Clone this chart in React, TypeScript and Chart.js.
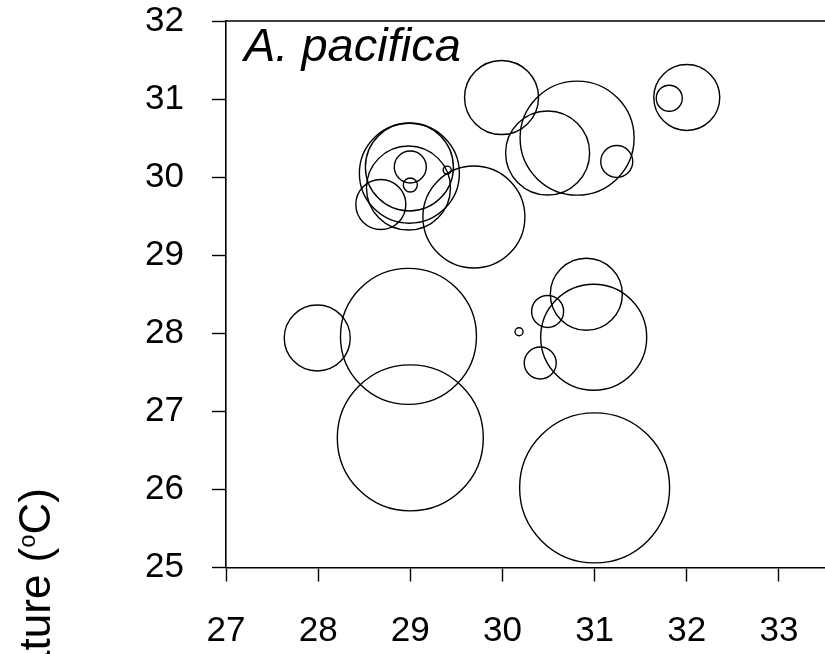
import React, { useEffect, useRef } from "react";
import { Chart, registerables } from "chart.js";

Chart.register(...registerables);

// Bubble data (x = first axis, y = temperature, r = bubble radius in px)
const xValues = [29.0, 28.98, 27.99, 31.0, 30.99, 30.91, 30.49, 30.41, 30.18, 29.99, 30.81, 30.49, 31.24, 32.0, 31.81, 29.69, 28.99, 28.99, 28.98, 29.0, 29.0, 29.4, 28.68];
const yValues = [26.66, 27.96, 27.94, 26.02, 27.95, 28.5, 28.28, 27.62, 28.02, 31.02, 30.5, 30.31, 30.2, 31.02, 31.01, 29.49, 30.05, 30.13, 29.86, 30.13, 29.9, 30.09, 29.65];
const rValues = [73, 68, 33, 75, 53, 36, 16, 16, 4, 37, 57, 42, 16, 33, 13, 51, 50, 44, 42, 16, 7, 4, 25];

const xTickMin = 27;
const xTickMax = 33.5;
const yTickMin = 25;
const yTickMax = 32;

const panelTitle = "A. pacifica";
const yTitleMain = "Temperature (";
const yTitleSup = "o";
const yTitleEnd = "C)";

const FONT = "'Liberation Sans', Arial, Helvetica, sans-serif";

export default function App() {
  const ref = useRef<HTMLCanvasElement | null>(null);

  useEffect(() => {
    if (!ref.current) return;
    const data = xValues.map((x, i) => ({ x, y: yValues[i], r: rValues[i] }));

    const decor = {
      id: "decor",
      afterDraw(chart: any) {
        const { ctx, chartArea } = chart;
        ctx.save();
        // top frame line
        ctx.strokeStyle = "#000";
        ctx.lineWidth = 1.5;
        ctx.beginPath();
        ctx.moveTo(chartArea.left, chartArea.top);
        ctx.lineTo(chartArea.right, chartArea.top);
        ctx.stroke();
        // panel title
        ctx.fillStyle = "#000";
        ctx.font = `italic 47px ${FONT}`;
        ctx.textAlign = "left";
        ctx.textBaseline = "alphabetic";
        ctx.fillText(panelTitle, 244, 61);
        // rotated y title
        ctx.translate(50, 488);
        ctx.rotate(-Math.PI / 2);
        const big = `44px ${FONT}`;
        const small = `24px ${FONT}`;
        ctx.font = big;
        const wMain = ctx.measureText(yTitleMain).width;
        const wEnd = ctx.measureText(yTitleEnd).width;
        ctx.font = small;
        const wSup = ctx.measureText(yTitleSup).width;
        let u = -(wMain + wSup + wEnd);
        ctx.font = big;
        ctx.fillText(yTitleMain, u, 0);
        u += wMain;
        ctx.font = small;
        ctx.fillText(yTitleSup, u, -15);
        u += wSup;
        ctx.font = big;
        ctx.fillText(yTitleEnd, u, 0);
        ctx.restore();
      },
    };

    const chart = new Chart(ref.current, {
      type: "bubble",
      data: {
        datasets: [
          {
            data,
            backgroundColor: "rgba(0,0,0,0)",
            borderColor: "#000",
            borderWidth: 1.4,
            hoverBorderWidth: 1.4,
          },
        ],
      },
      options: {
        animation: false,
        responsive: false,
        devicePixelRatio: 1,
        layout: { autoPadding: false, padding: { top: 21, right: 0, bottom: 0, left: 0 } },
        plugins: { legend: { display: false }, tooltip: { enabled: false } },
        scales: {
          x: {
            type: "linear",
            min: xTickMin,
            max: xTickMax,
            afterFit: (s: any) => {
              s.height = 86.5;
              s.paddingLeft = 0;
              s.paddingRight = 0;
            },
            ticks: {
              stepSize: 1,
              includeBounds: false,
              padding: 29,
              color: "#000",
              font: { family: FONT, size: 35 },
              maxRotation: 0,
            },
            grid: {
              display: true,
              drawOnChartArea: false,
              drawTicks: true,
              tickLength: 14,
              tickColor: "#000",
              tickWidth: 1.4,
            },
            border: { display: true, color: "#000", width: 1.6 },
          },
          y: {
            type: "linear",
            min: yTickMin,
            max: yTickMax,
            afterFit: (s: any) => {
              s.width = 226;
              s.paddingTop = 0;
              s.paddingBottom = 0;
            },
            ticks: {
              stepSize: 1,
              padding: 28,
              color: "#000",
              font: { family: FONT, size: 35 },
            },
            grid: {
              display: true,
              drawOnChartArea: false,
              drawTicks: true,
              tickLength: 14,
              tickColor: "#000",
              tickWidth: 1.4,
            },
            border: { display: true, color: "#000", width: 1.6 },
          },
        },
      },
      plugins: [decor],
    });
    return () => chart.destroy();
  }, []);

  return (
    <div style={{ position: "fixed", left: 0, top: 0, width: 825, height: 654, overflow: "hidden", background: "#fff" }}>
      <canvas ref={ref} width={825} height={654} style={{ width: 825, height: 654, display: "block" }} />
    </div>
  );
}
